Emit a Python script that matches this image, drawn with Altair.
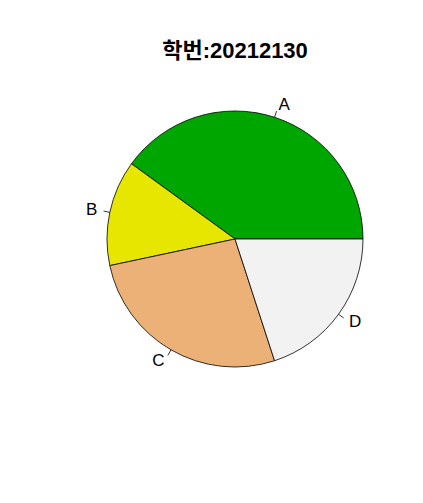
import altair as alt
import pandas as pd

labels = ["A", "B", "C", "D"]
values = [30, 10, 20, 15]
colors = ["#00A600", "#E6E600", "#ECB176", "#F2F2F2"]
title_text = "학번:20212130"

df = pd.DataFrame({"label": labels, "value": values, "idx": list(range(len(labels)))})

CX, CY, R = 227, 231, 128
FONT = "Liberation Sans, Arial, Noto Sans CJK KR"

base = alt.Chart(df).transform_joinaggregate(
    total="sum(value)"
).transform_window(
    cum="sum(value)", sort=[alt.SortField("idx")], frame=[None, 0]
).transform_calculate(
    c0="(datum.cum - datum.value) / datum.total",
    c1="datum.cum / datum.total",
).transform_calculate(
    t0="PI/2 - 2*PI*datum.c0",
    t1="PI/2 - 2*PI*datum.c1",
    mid="2*PI*(datum.c0 + datum.c1)/2",
).transform_calculate(
    lx0=f"{CX} + {R}*cos(datum.mid)",
    ly0=f"{CY} - {R}*sin(datum.mid)",
    lx1=f"{CX} + {R*1.05}*cos(datum.mid)",
    ly1=f"{CY} - {R*1.05}*sin(datum.mid)",
    tx=f"{CX} + {R*1.1}*cos(datum.mid)",
    ty=f"{CY} - {R*1.1}*sin(datum.mid)",
    right="cos(datum.mid) >= 0",
)

arcs = base.mark_arc(stroke="black", strokeWidth=0.8, outerRadius=R).encode(
    theta=alt.Theta("t0:Q", scale=None),
    theta2="t1:Q",
    x=alt.value(CX),
    y=alt.value(CY),
    color=alt.Color("label:N", scale=alt.Scale(domain=labels, range=colors), legend=None),
)

ticks = base.mark_rule(color="black", strokeWidth=0.8).encode(
    x=alt.X("lx0:Q", scale=None, axis=None),
    y=alt.Y("ly0:Q", scale=None, axis=None),
    x2="lx1:Q",
    y2="ly1:Q",
)

text_right = base.mark_text(align="left", baseline="middle", fontSize=17, font=FONT, color="black").encode(
    x=alt.X("tx:Q", scale=None, axis=None),
    y=alt.Y("ty:Q", scale=None, axis=None),
    text=alt.condition("datum.right", alt.Text("label:N"), alt.value("")),
)
text_left = base.mark_text(align="right", baseline="middle", fontSize=17, font=FONT, color="black").encode(
    x=alt.X("tx:Q", scale=None, axis=None),
    y=alt.Y("ty:Q", scale=None, axis=None),
    text=alt.condition("!datum.right", alt.Text("label:N"), alt.value("")),
)

title = alt.Chart(pd.DataFrame({"t": [title_text]})).mark_text(
    align="center", baseline="alphabetic", fontSize=22, fontWeight="bold", font=FONT, color="black"
).encode(text="t:N", x=alt.value(227), y=alt.value(50))

chart = alt.layer(arcs, ticks, text_right, text_left, title).properties(
    width=390, height=470, padding=0, autosize=alt.AutoSizeParams(type="none")
).configure_view(stroke="transparent", strokeWidth=0).configure_axis(
    domain=False, grid=False, ticks=False, labels=False
)

chart.save("out.html", embed_options={"renderer": "svg", "actions": False})
